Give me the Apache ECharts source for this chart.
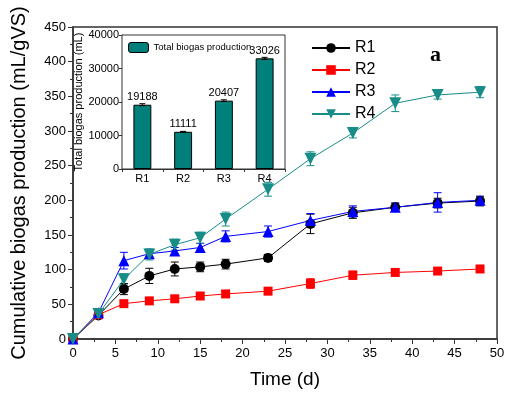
<!DOCTYPE html>
<html><head><meta charset="utf-8">
<script src="https://cdn.jsdelivr.net/npm/echarts@6/dist/echarts.min.js"></script>
<style>html,body{margin:0;padding:0;background:#fff}#c{width:512px;height:394px}</style>
</head><body><div id="c"></div>
<script>
const days = [0, 3, 6, 9, 12, 15, 18, 23, 28, 33, 38, 43, 48];
const r1 = [0, 34, 72, 91, 101, 104, 108, 117, 166, 182, 190, 196, 199];
const r2 = [0, 35, 51, 55, 58, 62, 65, 69, 80, 92, 96, 98, 101];
const r3 = [0, 38, 113, 123, 127, 132, 148, 155, 171, 184, 190, 197, 200];
const r4 = [0, 36, 86, 122, 136, 146, 173, 216, 260, 297, 340, 352, 356];
const e1 = [0, 3, 8, 11, 10, 7, 7, 5, 14, 8, 6, 7, 7];
const e2 = [0, 3, 4, 4, 4, 5, 4, 4, 7, 6, 4, 4, 5];
const e3 = [0, 3, 12, 5, 5, 6, 8, 8, 10, 8, 6, 14, 5];
const e4 = [0, 3, 8, 8, 8, 8, 10, 10, 10, 7, 12, 6, 8];
const seriesNames = ['R1', 'R2', 'R3', 'R4'];
const reactors = ['R1', 'R2', 'R3', 'R4'];
const totals = [19188, 11111, 20407, 33026];
const totalErr = [300, 120, 250, 300];

const colors = ['#000000', '#ff0000', '#0000ff', '#188d88'];
const symbols = ['circle', 'rect', 'triangle', 'path://M0,0 L10,0 L5,9 Z'];
const sizes = [10, 9, 11, 12];
const vals = [r1, r2, r3, r4];
const errs = [e1, e2, e3, e4];

function errRender(color, cap) {
  return function (params, api) {
    const x = api.value(0), lo = api.value(1), hi = api.value(2);
    const p1 = api.coord([x, hi]), p2 = api.coord([x, lo]);
    const st = { stroke: color, lineWidth: 1 };
    return { type: 'group', children: [
      { type: 'line', shape: { x1: p1[0], y1: p1[1], x2: p2[0], y2: p2[1] }, style: st },
      { type: 'line', shape: { x1: p1[0] - cap, y1: p1[1], x2: p1[0] + cap, y2: p1[1] }, style: st },
      { type: 'line', shape: { x1: p2[0] - cap, y1: p2[1], x2: p2[0] + cap, y2: p2[1] }, style: st }
    ]};
  };
}

const series = [];
for (let i = 0; i < 4; i++) {
  series.push({
    type: 'custom', xAxisIndex: 0, yAxisIndex: 0, z: 3,
    renderItem: errRender(colors[i], 4),
    data: days.map((d, k) => [d, vals[i][k] - errs[i][k], vals[i][k] + errs[i][k]]),
    silent: true
  });
}
for (let i = 0; i < 4; i++) {
  series.push({
    name: seriesNames[i], type: 'line', xAxisIndex: 0, yAxisIndex: 0, z: 4,
    data: days.map((d, k) => [d, vals[i][k]]),
    symbol: symbols[i], symbolSize: sizes[i], showAllSymbol: true,
    lineStyle: { color: colors[i], width: 1 },
    itemStyle: { color: colors[i] }
  });
}
series.push({
  name: 'Total biogas production', type: 'bar', xAxisIndex: 2, yAxisIndex: 2, z: 5,
  data: totals, barWidth: '44%',
  itemStyle: { color: '#00807a', borderColor: '#000', borderWidth: 1 },
  label: { show: true, position: 'top', distance: 2, fontSize: 11, fontFamily: 'Arial', color: '#000' }
});
series.push({
  type: 'custom', xAxisIndex: 2, yAxisIndex: 2, z: 6, silent: true,
  renderItem: errRender('#000', 3),
  data: totals.map((t, k) => [k, t - totalErr[k], t + totalErr[k]])
});

const axisCol = '#333';
const font = 'Arial';
const option = {
  animation: false,
  backgroundColor: '#fff',
  grid: [
    { left: 73, right: 15, top: 27, bottom: 53, show: true, borderColor: axisCol, borderWidth: 1.5 },
    { left: 122, top: 35, width: 163, height: 134, show: true, borderColor: axisCol, borderWidth: 1, backgroundColor: '#fff', z: 4 }
  ],
  legend: [
    { data: seriesNames, orient: 'vertical', left: 306, top: 35, itemGap: 6, itemWidth: 38, itemHeight: 12,
      textStyle: { fontSize: 16, fontFamily: font, color: '#000' } },
    { data: ['Total biogas production'], left: 123, top: 37, itemWidth: 20, itemHeight: 10, itemGap: 3,
      textStyle: { fontSize: 9.5, fontFamily: font, color: '#000' },
      itemStyle: { borderColor: '#000', borderWidth: 1 } }
  ],
  xAxis: [
    { type: 'value', gridIndex: 0, min: 0, max: 50, interval: 5,
      name: 'Time (d)', nameLocation: 'middle', nameGap: 31,
      nameTextStyle: { fontSize: 19, fontFamily: font, color: '#000' },
      axisLine: { show: true, lineStyle: { color: axisCol, width: 1.5 } },
      axisTick: { show: true, length: 5, lineStyle: { color: axisCol } },
      minorTick: { show: true, splitNumber: 2, length: 3, lineStyle: { color: axisCol } },
      axisLabel: { fontSize: 13, fontFamily: font, color: '#000', margin: 8 },
      splitLine: { show: false } },
    { type: 'value', gridIndex: 0, position: 'top', min: 0, max: 50, interval: 5,
      axisLine: { show: false }, axisTick: { show: true, inside: true, length: 4, lineStyle: { color: axisCol } },
      axisLabel: { show: false }, splitLine: { show: false } },
    { type: 'category', gridIndex: 1, data: reactors,
      axisLine: { lineStyle: { color: axisCol } },
      axisTick: { show: true, length: 3, lineStyle: { color: axisCol } },
      axisLabel: { fontSize: 11, fontFamily: font, color: '#000', margin: 4 } }
  ],
  yAxis: [
    { type: 'value', gridIndex: 0, min: 0, max: 450, interval: 50,
      name: 'Cumulative biogas production (mL/gVS)', nameLocation: 'middle', nameGap: 44,
      nameTextStyle: { fontSize: 20, fontFamily: font, color: '#000' },
      axisLine: { show: true, lineStyle: { color: axisCol, width: 1.5 } },
      axisTick: { show: true, length: 5, lineStyle: { color: axisCol } },
      minorTick: { show: true, splitNumber: 2, length: 3, lineStyle: { color: axisCol } },
      axisLabel: { fontSize: 13, fontFamily: font, color: '#000', margin: 7 },
      splitLine: { show: false } },
    { type: 'value', gridIndex: 0, position: 'right', min: 0, max: 450, interval: 50,
      axisLine: { show: false }, axisTick: { show: true, inside: true, length: 4, lineStyle: { color: axisCol } },
      axisLabel: { show: false }, splitLine: { show: false } },
    { type: 'value', gridIndex: 1, min: 0, max: 40000, interval: 10000,
      name: 'Total biogas production (mL)', nameLocation: 'middle', nameGap: 37,
      nameTextStyle: { fontSize: 11, fontFamily: font, color: '#000' },
      axisLine: { show: true, lineStyle: { color: axisCol } },
      axisTick: { show: true, length: 3, lineStyle: { color: axisCol } },
      axisLabel: { fontSize: 11, fontFamily: font, color: '#000', margin: 3, formatter: v => String(v) },
      splitLine: { show: false } }
  ],
  graphic: [
    { type: 'text', left: 430, top: 44, z: 10,
      style: { text: 'a', font: 'bold 22px "Liberation Serif", serif', fill: '#000' } }
  ],
  series: series
};
echarts.init(document.getElementById('c')).setOption(option);
</script>
</body></html>
